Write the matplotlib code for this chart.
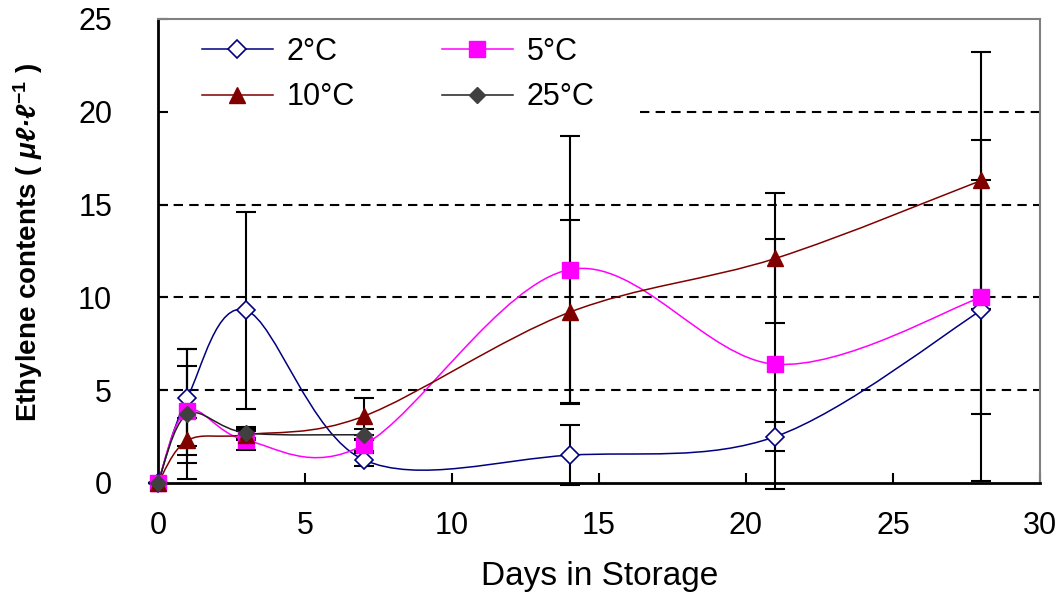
import numpy as np
import matplotlib
matplotlib.use("Agg")
import matplotlib.pyplot as plt
from matplotlib.path import Path
from matplotlib.patches import PathPatch
from matplotlib.lines import Line2D

plt.rcParams['font.family'] = ['Liberation Sans', 'DejaVu Sans']
plt.rcParams['mathtext.fontset'] = 'custom'
plt.rcParams['mathtext.rm'] = 'Liberation Sans:bold'
plt.rcParams['mathtext.bfit'] = 'Liberation Sans:italic:bold'
plt.rcParams['mathtext.default'] = 'rm'

days = [0, 1, 3, 7, 14, 21, 28]
days_25 = [0, 1, 3, 7]

eth_2 = [0, 4.6, 9.3, 1.25, 1.5, 2.5, 9.3]
err_2 = [0, 2.6, 5.3, 0.35, 1.6, 0.8, 9.2]
eth_5 = [0, 3.9, 2.3, 2.05, 11.5, 6.4, 10.0]
err_5 = [0, 2.4, 0.5, 0.3, 7.2, 6.75, 6.3]
eth_10 = [0, 2.3, 2.6, 3.6, 9.2, 12.1, 16.3]
err_10 = [0, 1.2, 0.3, 1.0, 4.95, 3.5, 6.9]
eth_25 = [0, 3.7, 2.7, 2.6]
err_25 = [0, 3.5, 0.3, 0.3]

labels = ['2°C', '5°C', '10°C', '25°C']
xticks = [0, 5, 10, 15, 20, 25, 30]
yticks = [0, 5, 10, 15, 20, 25]


def smooth_path(x, y):
    # excel style smoothed line: bezier through the points
    p = np.column_stack([np.asarray(x, float), np.asarray(y, float)])
    n = len(p)
    verts = [p[0]]
    codes = [Path.MOVETO]
    for i in range(n - 1):
        a = p[i - 1] if i > 0 else p[i]
        d = p[i + 2] if i + 2 < n else p[i + 1]
        verts += [p[i] + (p[i + 1] - a) / 6, p[i + 1] - (d - p[i]) / 6, p[i + 1]]
        codes += [Path.CURVE4] * 3
    return Path(verts, codes)


fig = plt.figure(figsize=(10.63, 5.97), dpi=100)
ax = fig.add_axes([158 / 1063, (597 - 483) / 597, 882 / 1063, (483 - 19) / 597])

series = [
    (days, eth_2, err_2, dict(color='#000080', marker='D', ms=9, mfc='white', mec='#000080', mew=1.2)),
    (days, eth_5, err_5, dict(color='#FF00FF', marker='s', ms=11, mfc='#FF00FF', mec='#FF00FF')),
    (days, eth_10, err_10, dict(color='#800000', marker='^', ms=12, mfc='#800000', mec='#800000')),
    (days_25, eth_25, err_25, dict(color='#202020', marker='D', ms=8, mfc='#404040', mec='#404040')),
]

handles = []
for (x, y, e, st), lab in zip(series, labels):
    ax.errorbar(x, y, yerr=e, fmt='none', ecolor='black', elinewidth=1.5,
                capsize=7, capthick=1.5, zorder=3, clip_on=False)
    ax.add_patch(PathPatch(smooth_path(x, y), fill=False, edgecolor=st['color'],
                           lw=1.1, zorder=4, clip_on=False))
    ax.plot(x, y, ls='none', marker=st['marker'], ms=st['ms'], mfc=st['mfc'],
            mec=st['mec'], mew=st.get('mew', 1), zorder=5, clip_on=False)
    handles.append(Line2D([], [], color=st['color'], lw=1.1, marker=st['marker'],
                          ms=st['ms'], mfc=st['mfc'], mec=st['mec'], mew=st.get('mew', 1)))

dash = dict(color='black', lw=1.5, dashes=(4.5, 3), zorder=1)
for v in [5, 10, 15]:
    ax.axhline(v, **dash)
ax.axhline(20, xmin=(640 - 158) / 882, **dash)

ax.set_xlim(0, 30)
ax.set_ylim(0, 25)
ax.set_xticks(xticks)
ax.set_yticks(yticks)
ax.tick_params(direction='in', length=7, width=1.5, labelsize=22)
ax.tick_params(axis='y', pad=33)
ax.tick_params(axis='x', pad=20)

for s in ['left', 'bottom']:
    ax.spines[s].set_linewidth(2)
    ax.spines[s].set_color('black')
for s in ['top', 'right']:
    ax.spines[s].set_linewidth(1.5)
    ax.spines[s].set_color('#808080')

# legend fills by column, so order as 2, 10 | 5, 25
order = [0, 2, 1, 3]
leg = ax.legend([handles[i] for i in order], [labels[i] for i in order], ncol=2,
                loc='upper left', bbox_to_anchor=((202 - 158) / 882, (483 - 37) / 464),
                frameon=False, fontsize=22, handlelength=2.32, handletextpad=0.46,
                columnspacing=2.84, labelspacing=0.5, borderpad=0, borderaxespad=0)

fig.text(600 / 1063, 1 - 577 / 597, 'Days in Storage', ha='center', va='center', fontsize=24)
fig.text(28 / 1063, 1 - 242 / 597, r'Ethylene contents ( $\mathbfit{μℓ·ℓ}^{-1}$ )', rotation=90,
         ha='center', va='center', fontsize=20, fontweight='bold')

fig.savefig('out.png', dpi=100)
